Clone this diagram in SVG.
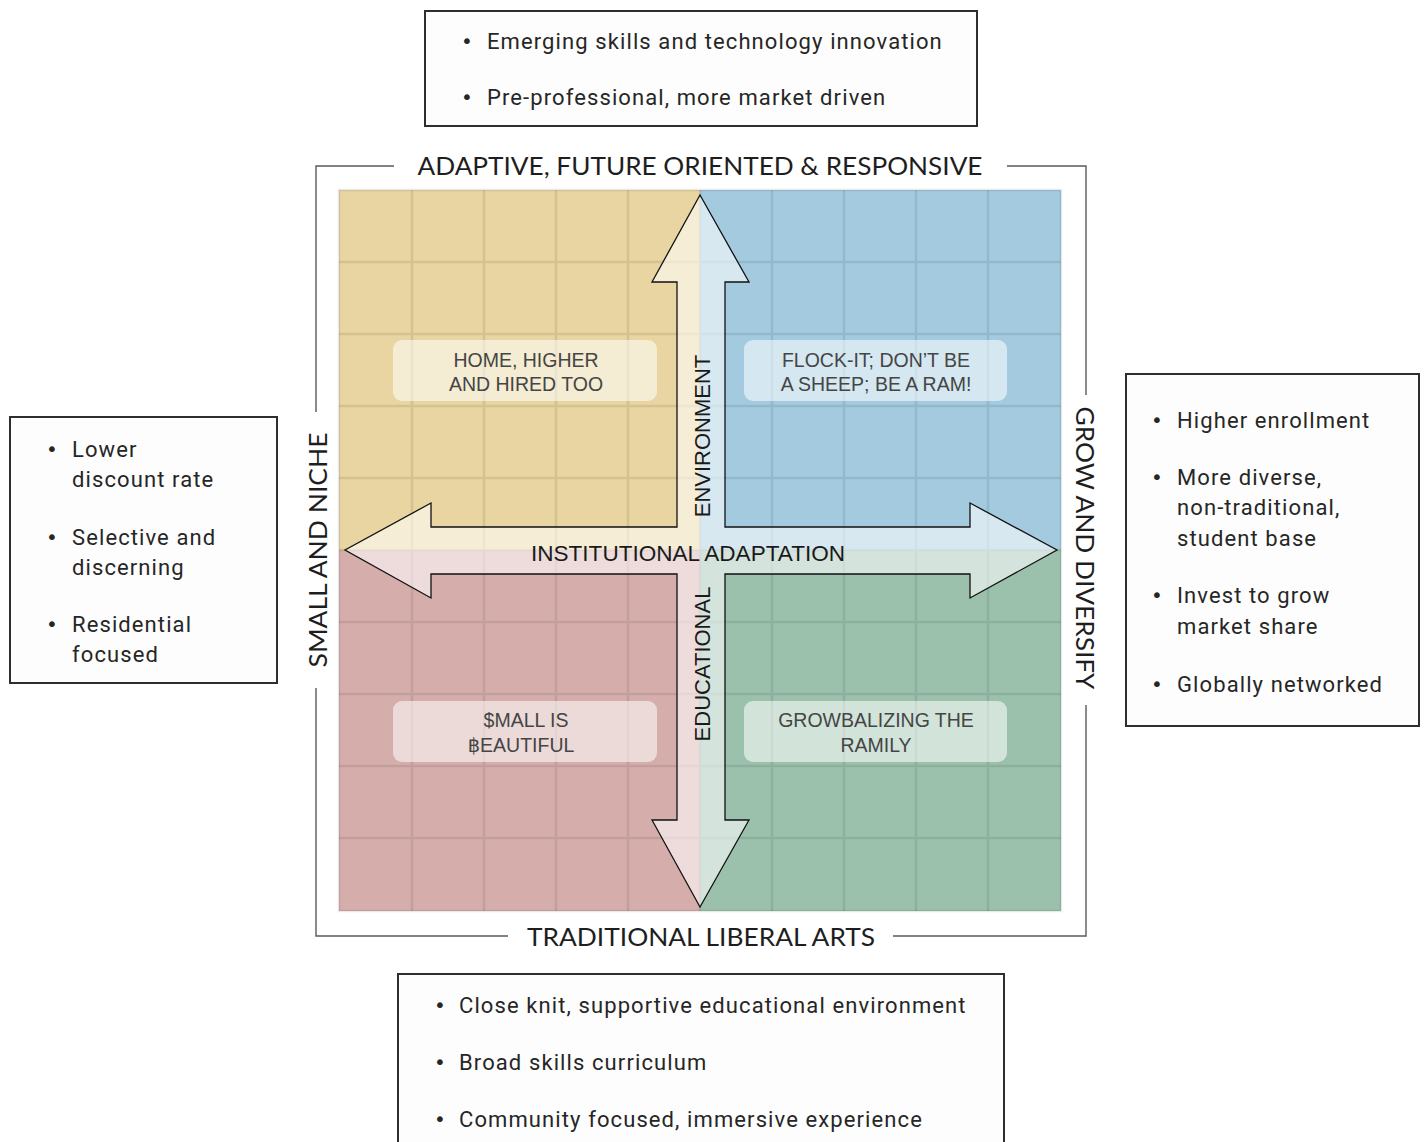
<svg xmlns="http://www.w3.org/2000/svg" width="1424" height="1142" viewBox="0 0 1424 1142">
  <style>
    .box { fill: #fdfdfd; stroke: #2e2e2e; stroke-width: 2; }
    .bt { font-family: Roboto, "Noto Sans", sans-serif; font-size: 22px; letter-spacing: 1.1px; fill: #262626; }
    .bu { font-family: "DejaVu Sans", sans-serif; font-size: 20px; fill: #262626; text-anchor: middle; }
    .axis { font-family: Lato, "Noto Sans", sans-serif; font-size: 25px; fill: #1e1e1e; }
    .frame { fill: none; stroke: #5a5a5a; stroke-width: 1.4; }
    .grid { stroke: #000; stroke-opacity: 0.085; stroke-width: 2.5; fill: none; }
    .tag { fill: #ffffff; fill-opacity: 0.55; }
    .tt { font-family: "Liberation Sans", "DejaVu Sans", sans-serif; font-size: 19.5px; fill: #454545; text-anchor: middle; }
    .inner { font-family: "Liberation Sans", "DejaVu Sans", sans-serif; font-size: 22px; fill: #1a1a1a; text-anchor: middle; }
    .cross { fill: #ffffff; fill-opacity: 0.57; stroke: #111; stroke-width: 1.3; stroke-linejoin: miter; }
  </style>

  <rect width="1424" height="1142" fill="#ffffff"/>

  <!-- quadrant fields -->
  <g id="quadrants">
    <rect x="339" y="190" width="361" height="360" fill="#e8d5a1"/>
    <rect x="700" y="190" width="361" height="360" fill="#a3cadf"/>
    <rect x="339" y="550" width="361" height="361" fill="#d5aeab"/>
    <rect x="700" y="550" width="361" height="361" fill="#9bc1ad"/>
    <path class="grid" d="M412 190V911M484 190V911M556 190V911M628 190V911M700 190V911M772 190V911M844 190V911M916 190V911M988 190V911
                          M339 262H1061M339 334H1061M339 406H1061M339 478H1061M339 550H1061M339 622H1061M339 694H1061M339 766H1061M339 838H1061"/>
    <rect class="grid" x="339" y="190" width="722" height="721" stroke-width="3"/>
  </g>

  <!-- outer frame with axis captions -->
  <g id="frame">
    <path class="frame" d="M394 166H316V412M316 688V936H508M893 936H1086V705M1086 395V166H1007"/>
    <text class="axis" x="700" y="175" text-anchor="middle" textLength="565" lengthAdjust="spacingAndGlyphs">ADAPTIVE, FUTURE ORIENTED &amp; RESPONSIVE</text>
    <text class="axis" x="701" y="946" text-anchor="middle" textLength="348" lengthAdjust="spacingAndGlyphs">TRADITIONAL LIBERAL ARTS</text>
    <text class="axis" transform="translate(327,550) rotate(-90)" text-anchor="middle" textLength="235" lengthAdjust="spacingAndGlyphs">SMALL AND NICHE</text>
    <text class="axis" transform="translate(1076,548) rotate(90)" text-anchor="middle" textLength="283" lengthAdjust="spacingAndGlyphs">GROW AND DIVERSIFY</text>
  </g>

  <!-- connectors: four-way arrow -->
  <g id="connectors">
    <path class="cross" d="M700 195L749 282H725V527H970V503L1057 550L970 598V574H725V820H749L700 907L652 820H677V574H431V598L345 550L431 503V527H677V282H652Z"/>
  </g>

  <g id="axis-labels">
    <text class="inner" x="688" y="561" textLength="314" lengthAdjust="spacingAndGlyphs">INSTITUTIONAL ADAPTATION</text>
    <text class="inner" transform="translate(710,436) rotate(-90)">ENVIRONMENT</text>
    <text class="inner" transform="translate(710,664) rotate(-90)">EDUCATIONAL</text>
  </g>

  <!-- quadrant titles -->
  <g id="q-home">
    <rect class="tag" x="393" y="340" width="264" height="61" rx="9"/>
    <text class="tt" x="526" y="367">HOME, HIGHER</text>
    <text class="tt" x="526" y="391">AND HIRED TOO</text>
  </g>
  <g id="q-flock">
    <rect class="tag" x="744" y="340" width="263" height="61" rx="9"/>
    <text class="tt" x="876" y="367">FLOCK-IT; DON’T BE</text>
    <text class="tt" x="876" y="391">A SHEEP; BE A RAM!</text>
  </g>
  <g id="q-small">
    <rect class="tag" x="393" y="701" width="264" height="61" rx="9"/>
    <text class="tt" x="526" y="727">$MALL IS</text>
    <text class="tt" x="521" y="752">฿EAUTIFUL</text>
  </g>
  <g id="q-grow">
    <rect class="tag" x="744" y="701" width="263" height="61" rx="9"/>
    <text class="tt" x="876" y="727">GROWBALIZING THE</text>
    <text class="tt" x="876" y="752">RAMILY</text>
  </g>

  <!-- side note boxes -->
  <g id="note-top">
    <rect class="box" x="425" y="11" width="552" height="115"/>
    <text class="bu" x="467" y="48">•</text>
    <text class="bt" x="487" y="49">Emerging skills and technology innovation</text>
    <text class="bu" x="467" y="104">•</text>
    <text class="bt" x="487" y="105">Pre-professional, more market driven</text>
  </g>

  <g id="note-left">
    <rect class="box" x="10" y="417" width="267" height="266"/>
    <text class="bu" x="52" y="456">•</text>
    <text class="bt" x="72" y="457">Lower</text>
    <text class="bt" x="72" y="487">discount rate</text>
    <text class="bu" x="52" y="544">•</text>
    <text class="bt" x="72" y="545">Selective and</text>
    <text class="bt" x="72" y="575">discerning</text>
    <text class="bu" x="52" y="631">•</text>
    <text class="bt" x="72" y="632">Residential</text>
    <text class="bt" x="72" y="662">focused</text>
  </g>

  <g id="note-right">
    <rect class="box" x="1126" y="374" width="293" height="352"/>
    <text class="bu" x="1157" y="427">•</text>
    <text class="bt" x="1177" y="428">Higher enrollment</text>
    <text class="bu" x="1157" y="484">•</text>
    <text class="bt" x="1177" y="485">More diverse,</text>
    <text class="bt" x="1177" y="515">non-traditional,</text>
    <text class="bt" x="1177" y="546">student base</text>
    <text class="bu" x="1157" y="602">•</text>
    <text class="bt" x="1177" y="603">Invest to grow</text>
    <text class="bt" x="1177" y="634">market share</text>
    <text class="bu" x="1157" y="691">•</text>
    <text class="bt" x="1177" y="692">Globally networked</text>
  </g>

  <g id="note-bottom">
    <rect class="box" x="398" y="974" width="606" height="180"/>
    <text class="bu" x="440" y="1012">•</text>
    <text class="bt" x="459" y="1013">Close knit, supportive educational environment</text>
    <text class="bu" x="440" y="1069">•</text>
    <text class="bt" x="459" y="1070">Broad skills curriculum</text>
    <text class="bu" x="440" y="1126">•</text>
    <text class="bt" x="459" y="1127">Community focused, immersive experience</text>
  </g>
</svg>
